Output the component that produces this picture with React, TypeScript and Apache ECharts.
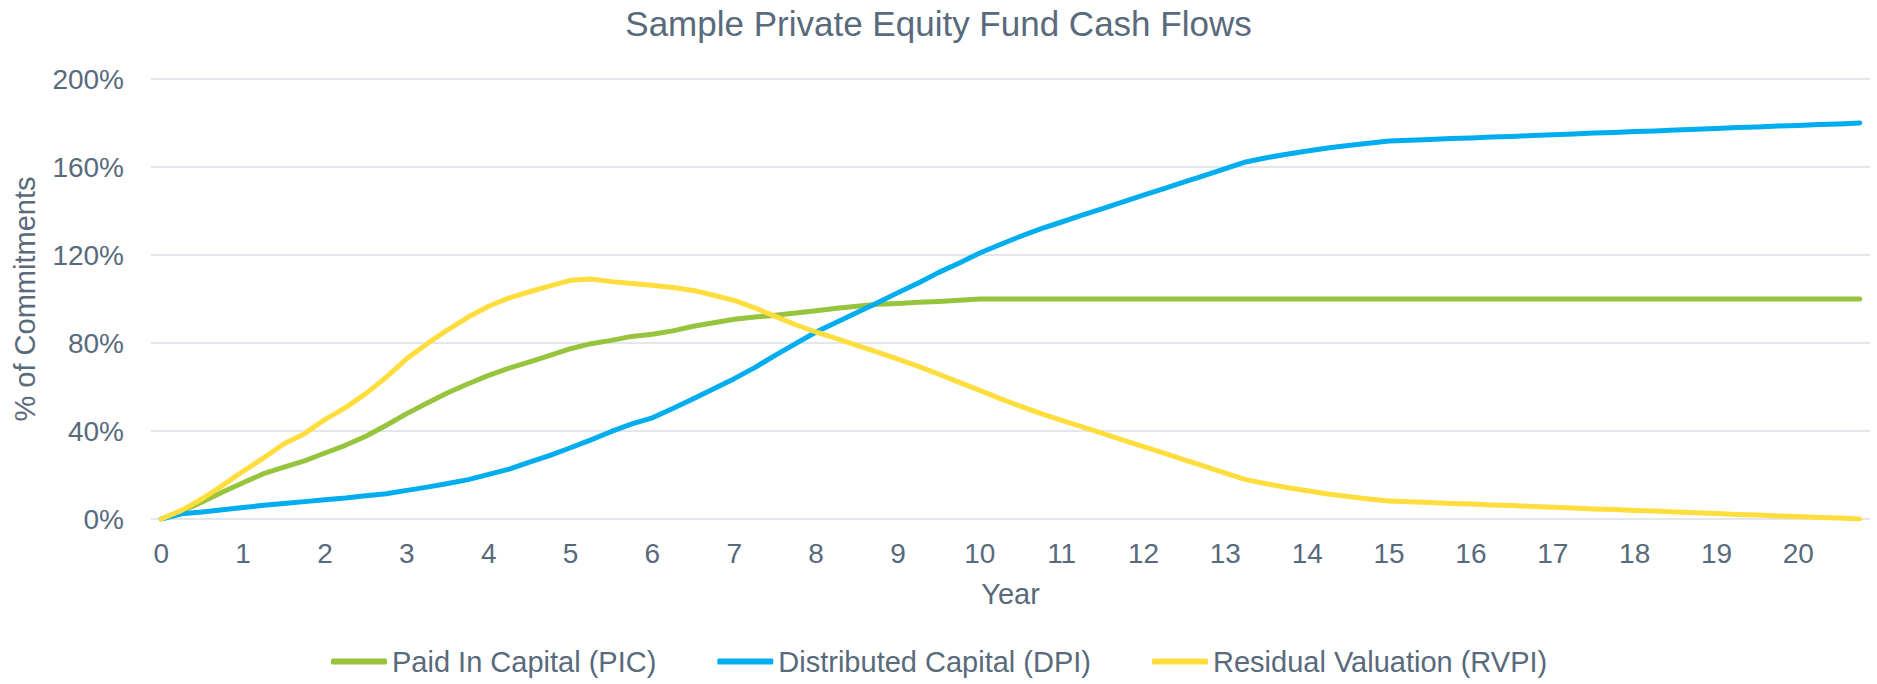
import React, { useEffect, useRef } from "react";
import * as echarts from "echarts";

const TITLE = "Sample Private Equity Fund Cash Flows";
const X_NAME = "Year";
const Y_NAME = "% of Commitments";
const SERIES_NAMES = ["Paid In Capital (PIC)", "Distributed Capital (DPI)", "Residual Valuation (RVPI)"];
const COLORS = ["#97C43D", "#00ADEE", "#FFDD3D"];

// quarterly points, year 0 .. 20.75
const QUARTER_COUNT = 84;
const categories = Array.from({ length: QUARTER_COUNT }, (_, i) => String(i / 4));

const pic = [
  0, 3.6, 7.7, 12.3, 16.5, 20.6, 23.6, 26.4, 30, 33.5, 37.6, 42.6,
  47.9, 52.7, 57.4, 61.5, 65.3, 68.6, 71.4, 74.4, 77.4, 79.7, 81.2, 83,
  84, 85.5, 87.6, 89.2, 90.8, 91.8, 92.6, 93.6, 94.7, 95.8, 96.7, 97.6,
  98, 98.5, 98.9, 99.4, 100, 100, 100, 100, 100, 100, 100, 100,
  100, 100, 100, 100, 100, 100, 100, 100, 100, 100, 100, 100,
  100, 100, 100, 100, 100, 100, 100, 100, 100, 100, 100, 100,
  100, 100, 100, 100, 100, 100, 100, 100, 100, 100, 100, 100,
];

const dpi = [
  0, 2.4, 3.2, 4.2, 5.2, 6.2, 7, 7.9, 8.8, 9.5, 10.6, 11.5,
  13, 14.5, 16.1, 17.9, 20.3, 22.7, 25.8, 28.9, 32.4, 36, 39.8, 43.2,
  46, 50.2, 54.7, 59.2, 63.8, 68.8, 74.4, 79.7, 85, 89.4, 93.9, 98.3,
  102.9, 107.3, 112.1, 116.4, 120.9, 124.8, 128.5, 132, 135, 138.1, 141.1, 144.1,
  147.2, 150.2, 153.2, 156.2, 159.3, 162.3, 164.2, 165.8, 167.3, 168.6, 169.8, 170.8,
  171.8, 172.2, 172.5, 172.9, 173.2, 173.6, 173.9, 174.3, 174.7, 175.0, 175.4, 175.7,
  176.1, 176.4, 176.8, 177.2, 177.5, 177.9, 178.2, 178.6, 178.9, 179.3, 179.6, 180,
];

const rvpi = [
  0, 3.9, 9.2, 15.3, 21.7, 27.7, 34.2, 38.8, 45.2, 50.6, 57, 64.5,
  72.9, 79.7, 86, 91.8, 96.7, 100.5, 103.3, 106, 108.5, 109.1, 107.9, 107,
  106.2, 105.2, 103.9, 101.7, 99.4, 96, 92.1, 88.3, 85, 82, 78.9, 75.9,
  72.7, 69.4, 65.8, 62.1, 58.5, 54.7, 51.2, 47.9, 44.8, 41.9, 38.9, 35.9,
  32.9, 29.9, 26.9, 23.9, 20.9, 17.9, 16, 14.3, 12.8, 11.4, 10.2, 9.1,
  8.2, 7.8, 7.5, 7.1, 6.8, 6.4, 6.1, 5.7, 5.3, 5.0, 4.6, 4.3,
  3.9, 3.6, 3.2, 2.8, 2.5, 2.1, 1.8, 1.4, 1.1, 0.7, 0.4, 0,
];

const Y_MIN = 0;
const Y_MAX = 200;
const Y_INTERVAL = 40;

const TEXT_COLOR = "#586A7B";
const GRID_COLOR = "#E3E7EB";
const FONT = "'Liberation Sans', Arial, sans-serif";

export default function App() {
  const ref = useRef<HTMLDivElement>(null);

  useEffect(() => {
    if (!ref.current) return;
    const chart = echarts.init(ref.current, undefined, { renderer: "svg" });
    const values = [pic, dpi, rvpi];
    chart.setOption({
      animation: false,
      backgroundColor: "#FFFFFF",
      textStyle: { fontFamily: FONT },
      title: {
        text: TITLE,
        left: "center",
        top: 6,
        padding: 0,
        textStyle: { color: TEXT_COLOR, fontSize: 35, fontWeight: "normal", fontFamily: FONT },
      },
      legend: {
        left: 331,
        top: 647,
        padding: 0,
        itemWidth: 56,
        itemHeight: 6,
        itemGap: 61,
        icon: "roundRect",
        textStyle: { color: TEXT_COLOR, fontSize: 29, fontFamily: FONT },
        data: SERIES_NAMES,
      },
      grid: { left: 151, top: 79, width: 1719, height: 440, containLabel: false },
      xAxis: {
        type: "category",
        data: categories,
        boundaryGap: true,
        name: X_NAME,
        nameLocation: "middle",
        nameGap: 60,
        nameTextStyle: { color: TEXT_COLOR, fontSize: 29, fontFamily: FONT },
        axisLine: { show: false },
        axisTick: { show: false },
        axisLabel: {
          interval: 3,
          margin: 20,
          color: TEXT_COLOR,
          fontSize: 28,
          fontFamily: FONT,
        },
        splitLine: { show: false },
      },
      yAxis: {
        type: "value",
        min: Y_MIN,
        max: Y_MAX,
        interval: Y_INTERVAL,
        name: Y_NAME,
        nameLocation: "middle",
        nameGap: 112,
        nameTextStyle: { color: TEXT_COLOR, fontSize: 29, fontFamily: FONT },
        axisLine: { show: false },
        axisTick: { show: false },
        axisLabel: {
          formatter: "{value}%",
          margin: 27,
          color: TEXT_COLOR,
          fontSize: 28,
          fontFamily: FONT,
        },
        splitLine: { show: true, lineStyle: { color: GRID_COLOR, width: 2 } },
      },
      series: SERIES_NAMES.map((name, i) => ({
        name,
        type: "line",
        data: values[i],
        symbol: "none",
        smooth: false,
        color: COLORS[i],
        lineStyle: { color: COLORS[i], width: 5, cap: "round", join: "round" },
        itemStyle: { color: COLORS[i] },
      })),
    });
    return () => chart.dispose();
  }, []);

  return (
    <div
      ref={ref}
      style={{ position: "fixed", left: 0, top: 0, width: 1877, height: 684, background: "#fff" }}
    />
  );
}
